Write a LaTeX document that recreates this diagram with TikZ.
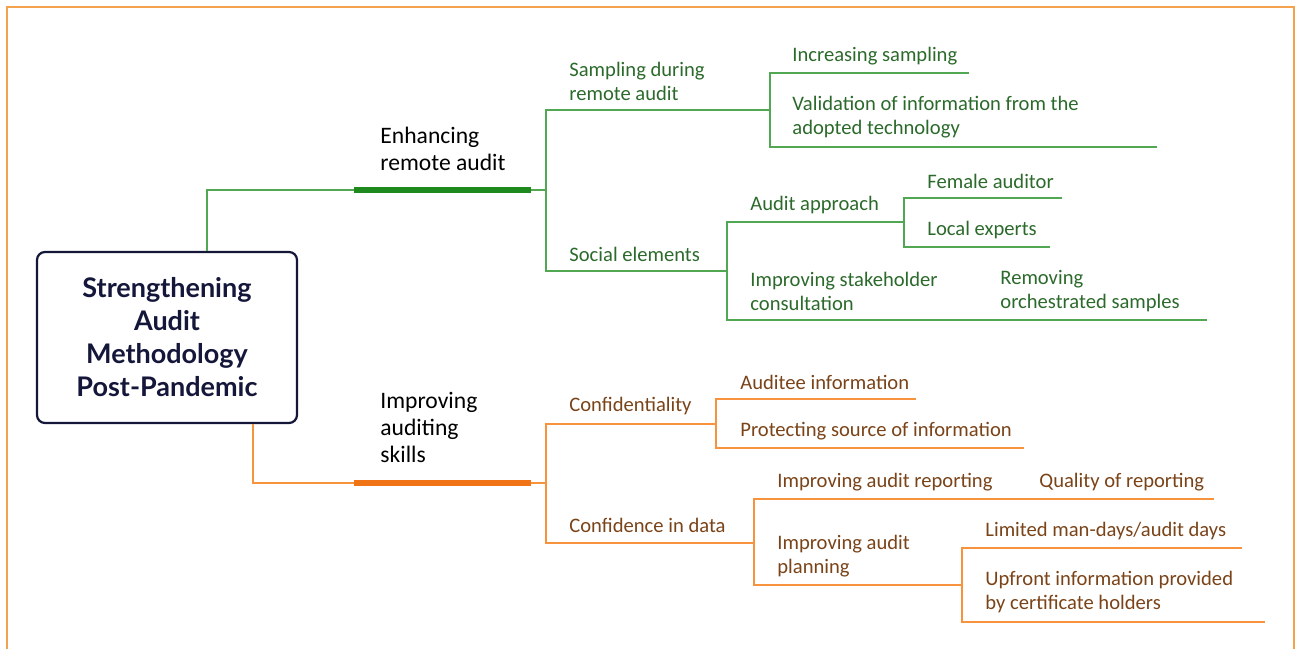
\documentclass[tikz,border=0pt]{standalone}
\usepackage{fontspec}
\setmainfont{Carlito}
\newfontfamily\headfont{Lato}
\usetikzlibrary{positioning,calc}
\definecolor{amFrame}{HTML}{F4A24E}
\definecolor{amNavy}{HTML}{14163A}
\definecolor{amGreen}{HTML}{1E8A1E}
\definecolor{amGreenL}{HTML}{52A852}
\definecolor{amGreenT}{HTML}{2C6A2C}
\definecolor{amOrange}{HTML}{F07415}
\definecolor{amOrangeL}{HTML}{F7933D}
\definecolor{amOrangeT}{HTML}{7A4318}
\tikzset{
  am-root/.style={
    draw=amNavy, line width=1.1pt, rounded corners=4pt, fill=white,
    text=amNavy, font=\headfont\bfseries\fontsize{13.5}{16.5}\selectfont,
    align=center, minimum width=130pt, minimum height=85.5pt, inner sep=0pt
  },
  am-main/.style={anchor=west, inner sep=0pt, align=left, text=black,
    font=\fontsize{11.8}{13.5}\selectfont},
  am-gtxt/.style={anchor=west, inner sep=0pt, align=left, text=amGreenT,
    yshift=-1pt, font=\fontsize{10.3}{12}\selectfont},
  am-otxt/.style={am-gtxt, text=amOrangeT},
  am-gline/.style={draw=amGreenL, line width=0.7pt},
  am-oline/.style={draw=amOrangeL, line width=0.7pt},
  am-gbar/.style={draw=amGreen, line width=2.6pt},
  am-obar/.style={draw=amOrange, line width=2.6pt},
  am-frame/.style={draw=amFrame, line width=1pt}
}
\begin{document}
\begin{tikzpicture}[x=0.5pt, y=-0.5pt]
\useasboundingbox (0,0) rectangle (1295,648);
\draw[am-frame] (7,652) -- (7,7) -- (1294,7) -- (1294,652);

% Root
\node[am-root] (root) at (167,337.5)
  {Strengthening\\ Audit\\ Methodology\\ Post-Pandemic};

% Main branches
\node[am-main] (enh) at (380,148.5) {Enhancing\\ remote audit};
\coordinate (enhL) at (354,190);
\coordinate (enhR) at (531,190);
\coordinate (enhJ) at (546,190);
\node[am-main] (imp) at (380,427.5) {Improving\\ auditing\\ skills};
\coordinate (impL) at (354,483);
\coordinate (impR) at (531,483);
\coordinate (impJ) at (546,483);

\draw[am-gline] ([xshift=20pt]root.north) |- (enhL);
\draw[am-gbar] (enhL) -- (enhR);
\draw[am-gline] (enhR) -- (enhJ);
\draw[am-oline] ([xshift=43pt]root.south) |- (impL);
\draw[am-obar] (impL) -- (impR);
\draw[am-oline] (impR) -- (impJ);

% Enhancing remote audit
\node[am-gtxt] (samp) at (569,79) {Sampling during\\ remote audit};
\coordinate (sampU) at (770,110);
\node[am-gtxt] (incr) at (792,54) {Increasing sampling};
\coordinate (incrU) at (969,73);
\node[am-gtxt] (valid) at (792,115)
  {Validation of information from the\\ adopted technology};
\coordinate (validU) at (1157,147);

\node[am-gtxt] (soc) at (569,252) {Social elements};
\coordinate (socU) at (727,271);
\node[am-gtxt] (appr) at (750,203) {Audit approach};
\coordinate (apprU) at (904,222);
\node[am-gtxt] (fem) at (927,179) {Female auditor};
\coordinate (femU) at (1062,198);
\node[am-gtxt] (loc) at (927,228) {Local experts};
\coordinate (locU) at (1050,247);
\node[am-gtxt] (stake) at (750,289) {Improving stakeholder\\ consultation};
\node[am-gtxt] (orch) at (1000,289) {Removing\\ orchestrated samples};
\coordinate (orchU) at (1207,320);

\draw[am-gline] (enhJ) |- (sampU);
\draw[am-gline] (enhJ) |- (socU);
\draw[am-gline] (sampU) |- (incrU);
\draw[am-gline] (sampU) |- (validU);
\draw[am-gline] (socU) |- (apprU);
\draw[am-gline] (socU) |- (orchU);
\draw[am-gline] (apprU) |- (femU);
\draw[am-gline] (apprU) |- (locU);

% Improving auditing skills
\node[am-otxt] (conf) at (569,404) {Confidentiality};
\coordinate (confU) at (716,424);
\node[am-otxt] (audi) at (740,380) {Auditee information};
\coordinate (audiU) at (916,399);
\node[am-otxt] (prot) at (740,429) {Protecting source of information};
\coordinate (protU) at (1024,448);

\node[am-otxt] (data) at (569,523) {Confidence in data};
\coordinate (dataU) at (754,543);
\node[am-otxt] (rep) at (777,480) {Improving audit reporting};
\node[am-otxt] (qual) at (1039,480) {Quality of reporting};
\coordinate (qualU) at (1214,499);
\node[am-otxt] (plan) at (777,554) {Improving audit\\ planning};
\coordinate (planU) at (962,585);
\node[am-otxt] (lim) at (985,529) {Limited man-days/audit days};
\coordinate (limU) at (1242,548);
\node[am-otxt] (upf) at (985,590)
  {Upfront information provided\\ by certificate holders};
\coordinate (upfU) at (1265,622);

\draw[am-oline] (impJ) |- (confU);
\draw[am-oline] (impJ) |- (dataU);
\draw[am-oline] (confU) |- (audiU);
\draw[am-oline] (confU) |- (protU);
\draw[am-oline] (dataU) |- (qualU);
\draw[am-oline] (dataU) |- (planU);
\draw[am-oline] (planU) |- (limU);
\draw[am-oline] (planU) |- (upfU);
\end{tikzpicture}
\end{document}
